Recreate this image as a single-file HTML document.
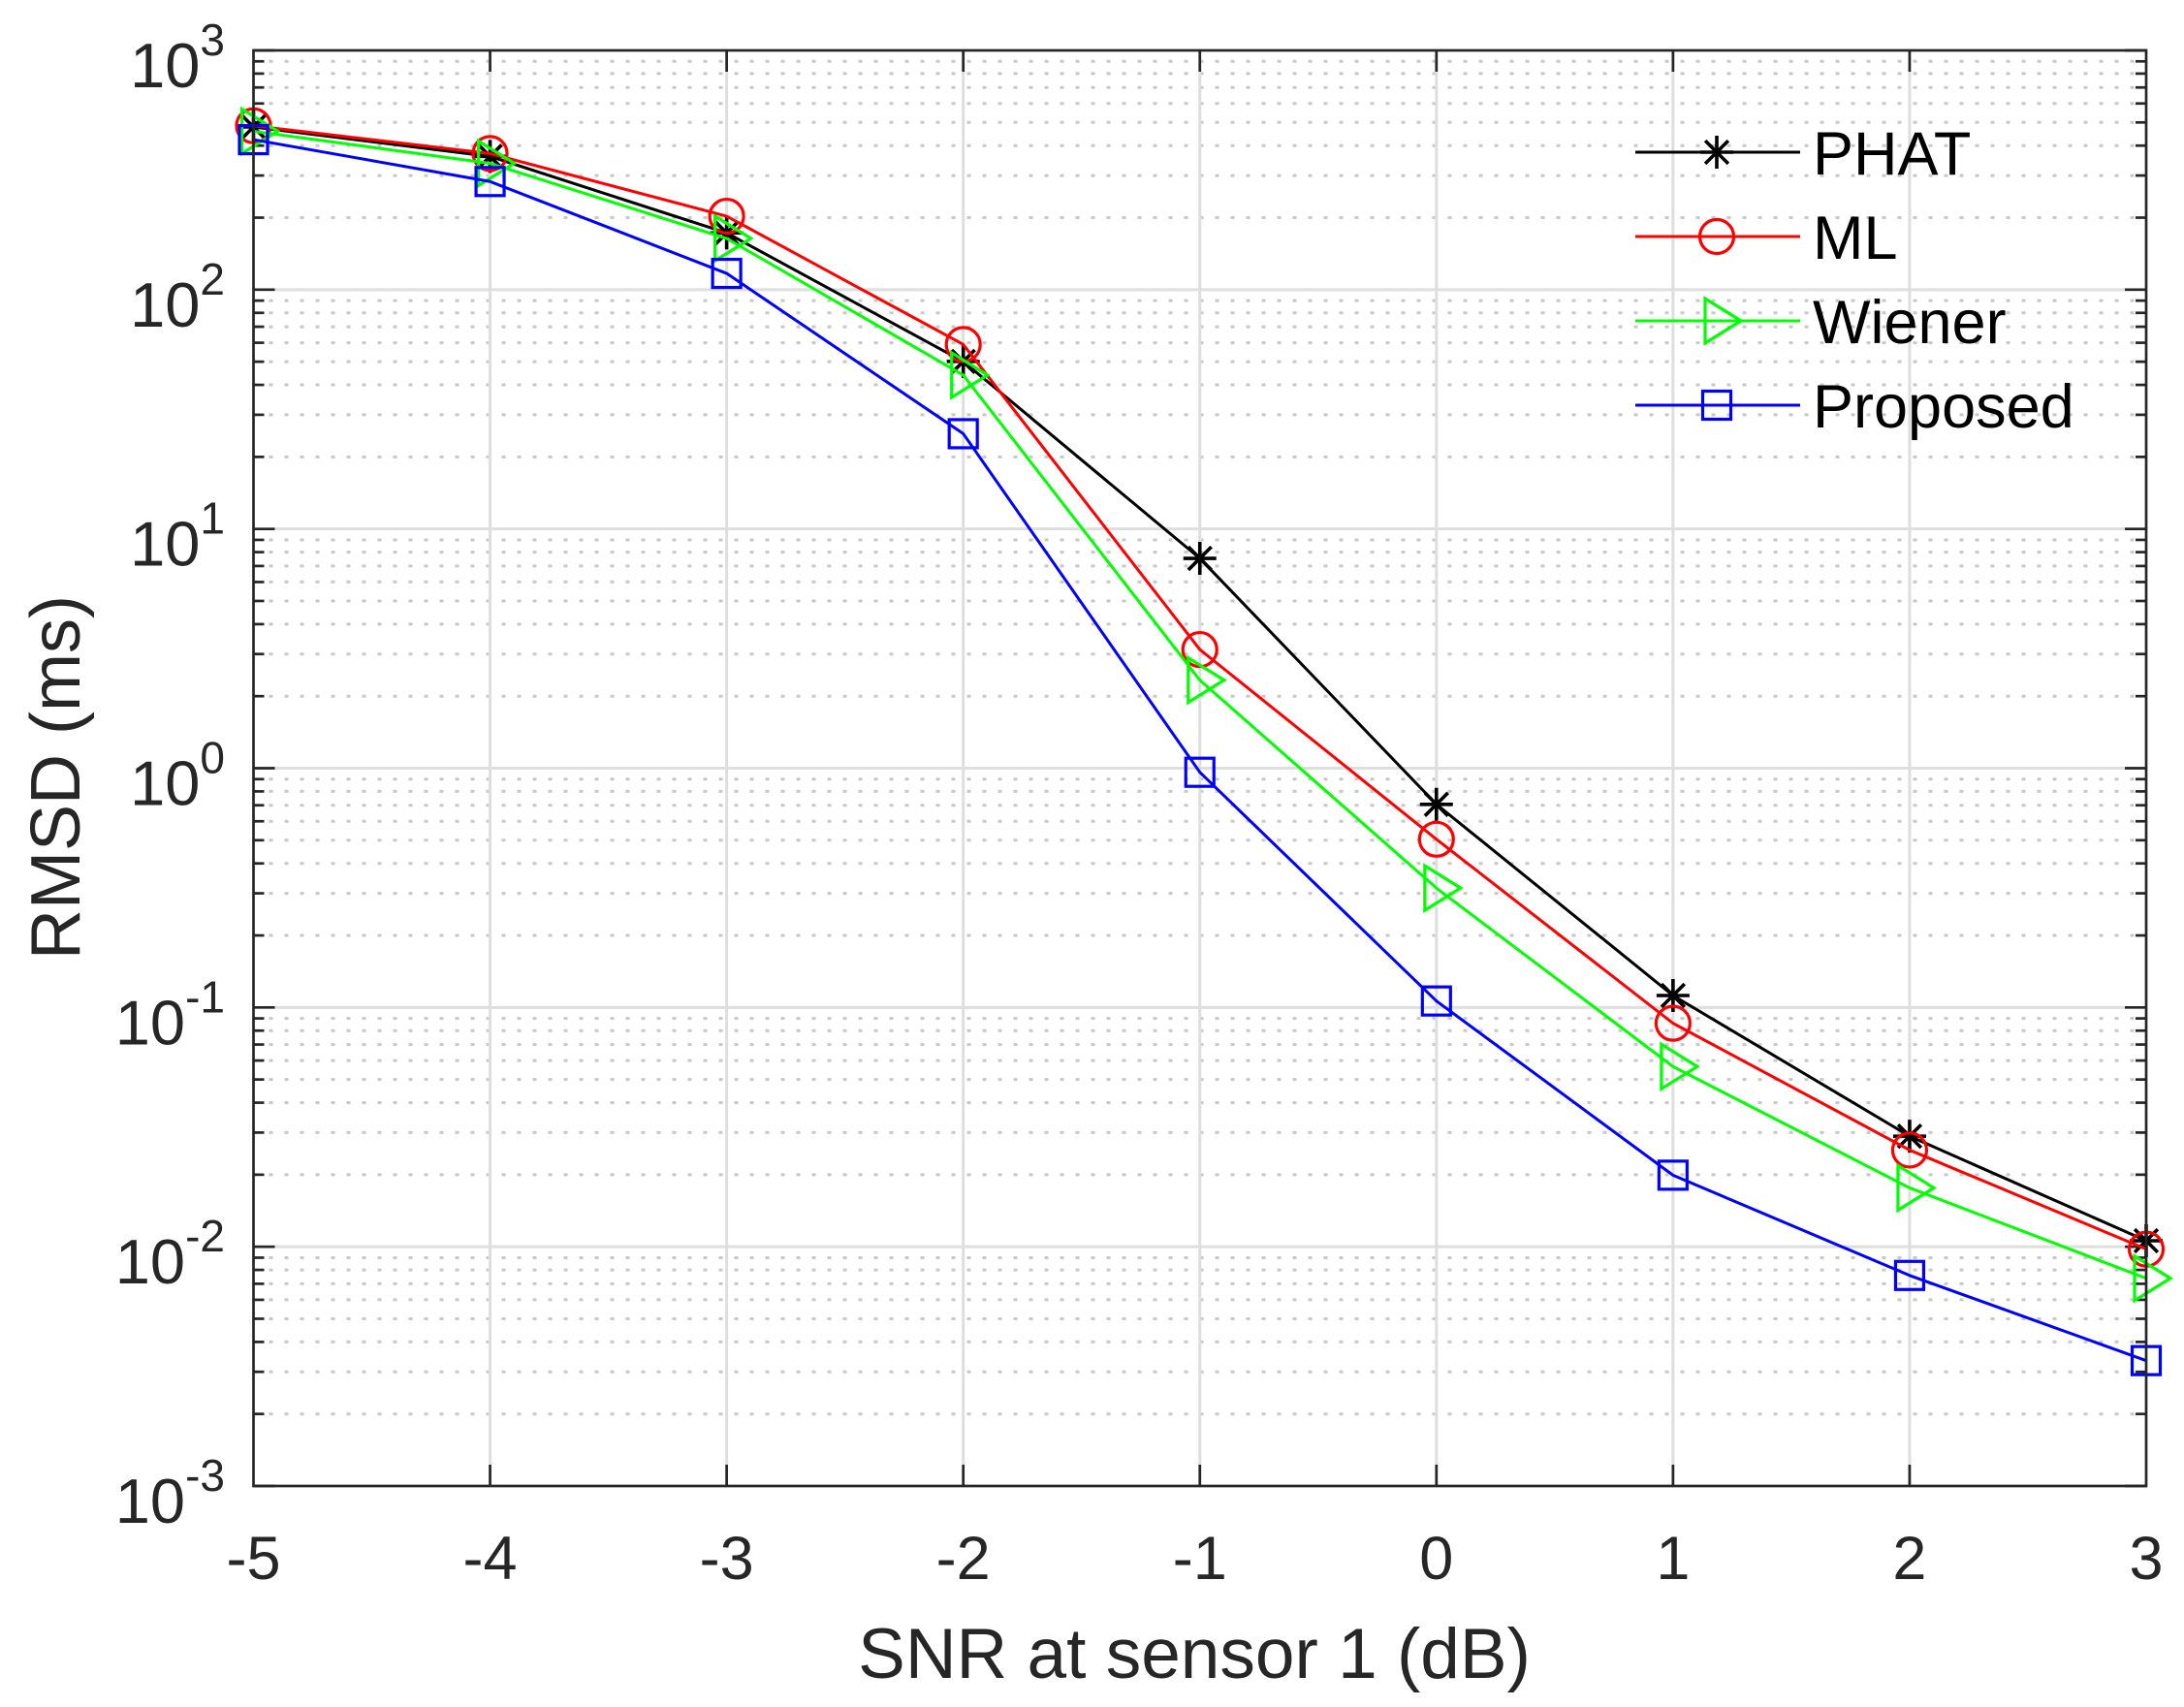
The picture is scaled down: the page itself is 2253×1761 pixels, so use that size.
<!DOCTYPE html>
<html><head><meta charset="utf-8">
<style>html,body{margin:0;padding:0;background:#fff;}svg{display:block;}</style>
</head><body>
<svg id="s" width="2253" height="1761" xmlns="http://www.w3.org/2000/svg" font-family="Liberation Sans, Arial, sans-serif"></svg>
<script>
const L=261.5,R=2214,T=52,B=1533;
const ux=(R-L)/8, dec=(B-T)/6;
const X=v=>L+(v+5)*ux, Y=l=>T+(3-l)*dec;
let h='';
for(let d=-3;d<3;d++){for(let k=2;k<=9;k++){const y=Y(d+Math.log10(k));
h+=`<line x1="${L}" x2="${R}" y1="${y}" y2="${y}" stroke="#c8c8c8" stroke-width="3" stroke-dasharray="4 12"/>`;}}
for(let d=-2;d<3;d++){const y=Y(d);h+=`<line x1="${L}" x2="${R}" y1="${y}" y2="${y}" stroke="#dedede" stroke-width="3"/>`;}
for(let i=-4;i<3;i++){const x=X(i);h+=`<line x1="${x}" x2="${x}" y1="${T}" y2="${B}" stroke="#dedede" stroke-width="3"/>`;}
for(let i=-4;i<3;i++){const x=X(i);h+=`<line x1="${x}" x2="${x}" y1="${B}" y2="${B-22}" stroke="#262626" stroke-width="2.7"/><line x1="${x}" x2="${x}" y1="${T}" y2="${T+22}" stroke="#262626" stroke-width="2.7"/>`;}
for(let d=-3;d<=3;d++){for(let k=1;k<=9;k++){if(d==3&&k>1)break;const y=Y(d+Math.log10(k));const len=k==1?22:11;
h+=`<line x1="${L}" x2="${L+len}" y1="${y}" y2="${y}" stroke="#262626" stroke-width="2.7"/><line x1="${R}" x2="${R-len}" y1="${y}" y2="${y}" stroke="#262626" stroke-width="2.7"/>`;}}
const S=[
 {c:'#000',m:'star',v:[2.68,2.557,2.237,1.70,0.877,-0.151,-0.950,-1.538,-1.975]},
 {c:'#ff0000',m:'circ',v:[2.685,2.569,2.307,1.771,0.496,-0.297,-1.066,-1.596,-2.010]},
 {c:'#00ff00',m:'tri',v:[2.662,2.528,2.214,1.643,0.368,-0.501,-1.247,-1.754,-2.132]},
 {c:'#0000ff',m:'sq',v:[2.627,2.452,2.068,1.398,-0.017,-0.973,-1.701,-2.120,-2.476]}];
function mk(m,x,y,c){
 if(m=='circ')return `<circle cx="${x}" cy="${y}" r="17.5" fill="none" stroke="${c}" stroke-width="3.2"/>`;
 if(m=='sq')return `<rect x="${x-14.5}" y="${y-14.5}" width="29" height="29" fill="none" stroke="${c}" stroke-width="3.2"/>`;
 if(m=='tri')return `<polygon points="${x-12},${y-23} ${x+25},${y} ${x-12},${y+23}" fill="none" stroke="${c}" stroke-width="3.2"/>`;
 const r=17,a=r*0.7;
 return `<g stroke="${c}" stroke-width="3.6"><line x1="${x-r}" x2="${x+r}" y1="${y}" y2="${y}"/><line x1="${x}" x2="${x}" y1="${y-r}" y2="${y+r}"/><line x1="${x-a}" x2="${x+a}" y1="${y-a}" y2="${y+a}"/><line x1="${x-a}" x2="${x+a}" y1="${y+a}" y2="${y-a}"/></g>`;
}
for(const s of S){const pts=s.v.map((l,i)=>[X(i-5),Y(l)]);
 h+=`<polyline points="${pts.map(p=>p.join(',')).join(' ')}" fill="none" stroke="${s.c}" stroke-width="3" stroke-linejoin="round"/>`;
 for(const p of pts)h+=mk(s.m,p[0],p[1],s.c);}
h+=`<rect x="${L}" y="${T}" width="${R-L}" height="${B-T}" fill="none" stroke="#262626" stroke-width="2.7"/>`;
for(let i=-5;i<=3;i++)h+=`<text x="${X(i)}" y="1629" font-size="63" fill="#262626" text-anchor="middle">${i}</text>`;
for(let d=-3;d<=3;d++){const y=Y(d);h+=`<text x="232" y="${y+38}" font-size="65" fill="#262626" text-anchor="end">10<tspan font-size="46" dy="-33">${d}</tspan></text>`;}
h+=`<text x="1232" y="1731" font-size="73" fill="#262626" text-anchor="middle">SNR at sensor 1 (dB)</text>`;
h+=`<text transform="translate(82,802) rotate(-90)" font-size="72" fill="#262626" text-anchor="middle">RMSD (ms)</text>`;
const names=['PHAT','ML','Wiener','Proposed'],ly=[157,244,331,418];
S.forEach((s,i)=>{const y=ly[i];
 h+=`<line x1="1687" x2="1857" y1="${y}" y2="${y}" stroke="${s.c}" stroke-width="3"/>`+mk(s.m,1771,y,s.c);
 h+=`<text x="1870" y="${y+23}" font-size="63" fill="#000">${names[i]}</text>`;});
document.getElementById('s').innerHTML=h;
</script>
</body></html>
